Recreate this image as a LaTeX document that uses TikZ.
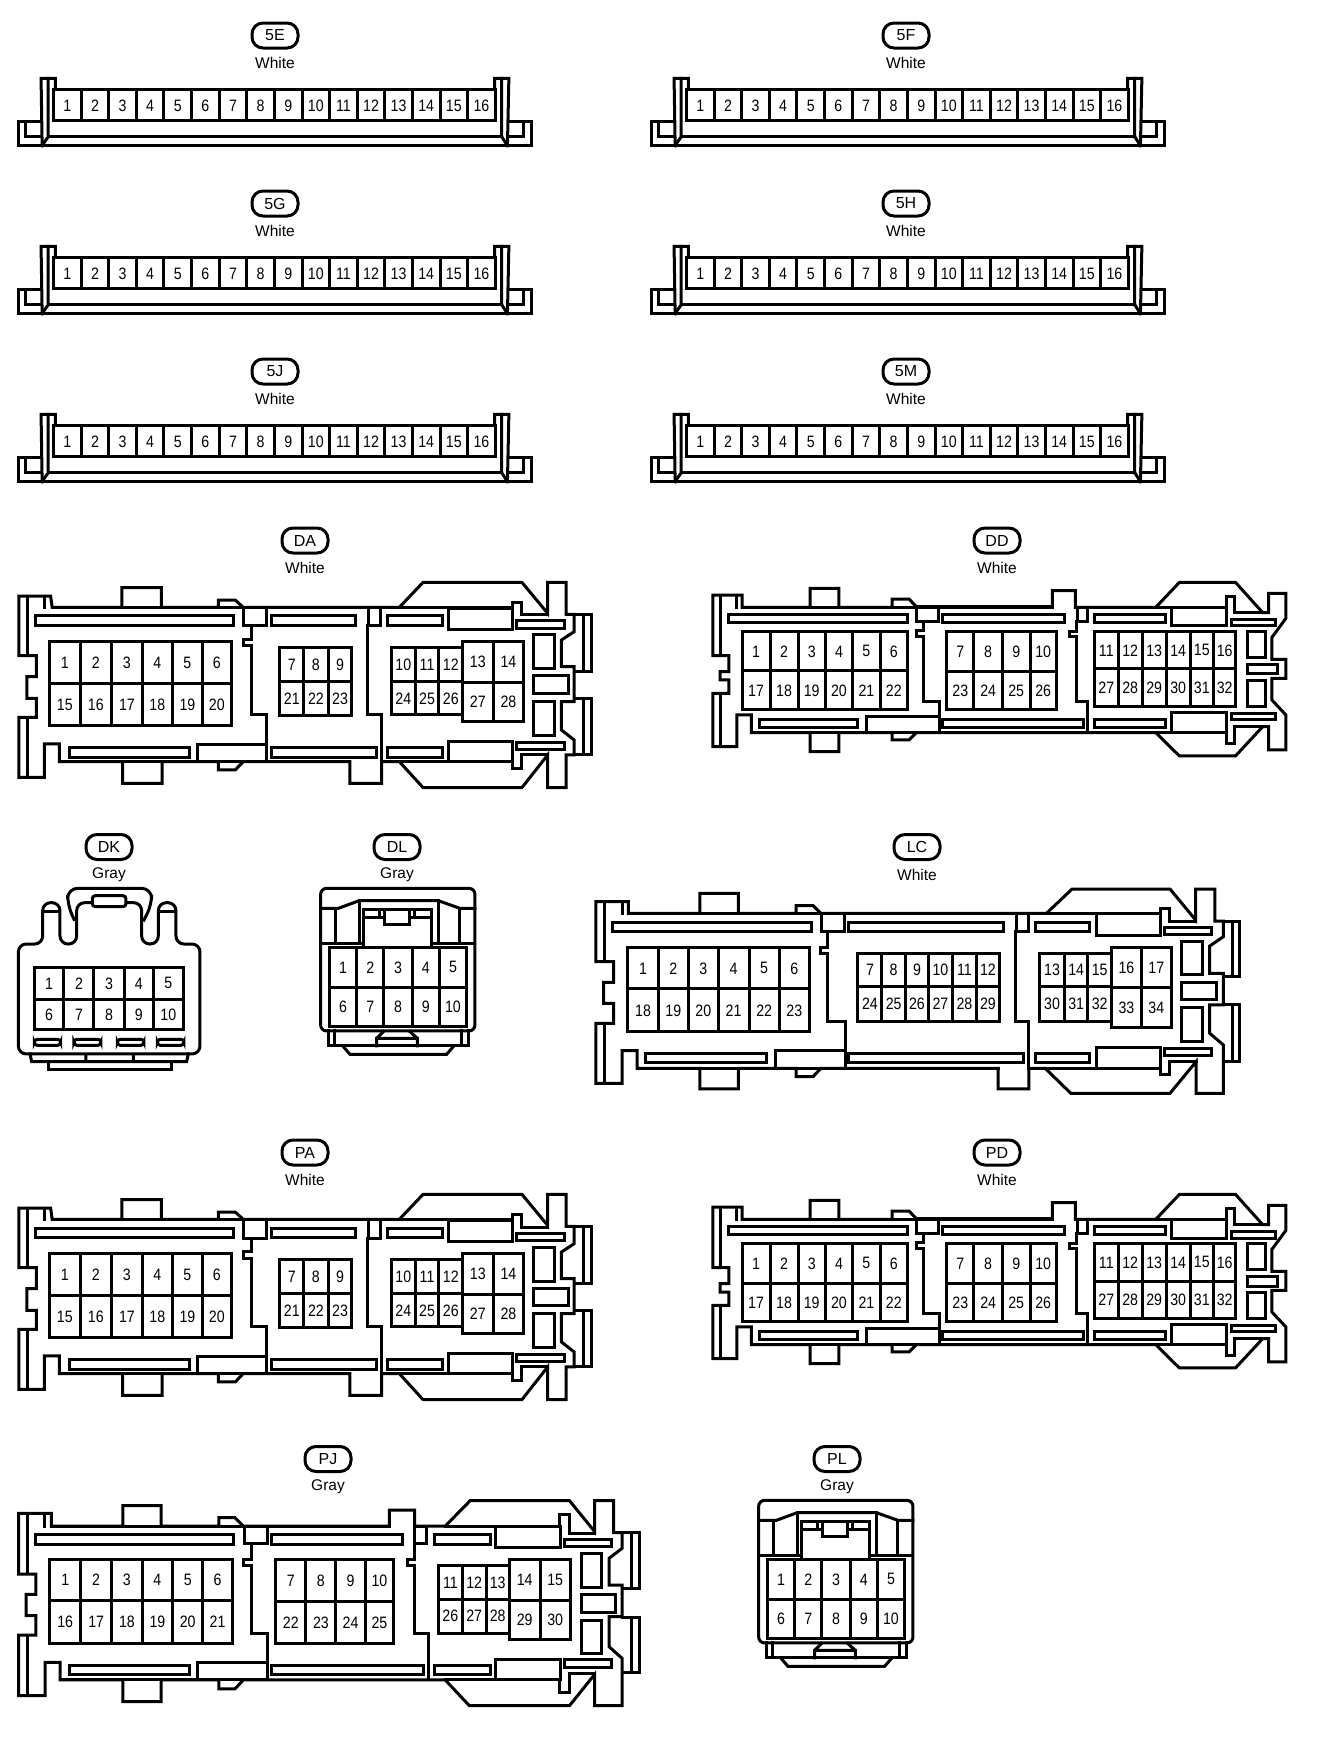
\documentclass[tikz,border=0pt]{standalone}
\usepackage{fontspec}
\setmainfont{Liberation Sans}
\newfontfamily\pinfont[FakeStretch=0.86]{Liberation Sans}
\tikzset{
  partline/.style={line width=3pt,line join=miter,line cap=rect},
  tagbox/.style={draw,line width=3pt,rounded corners=11pt,minimum width=46pt,minimum height=25pt,inner sep=0pt,font=\fontsize{16}{18}\selectfont},
  collabel/.style={inner sep=0pt,font=\fontsize{15.5}{18}\selectfont},
  pinlabel/.style={inner sep=0pt,font=\pinfont\fontsize{16.5}{18}\selectfont}
}
\newcommand{\tagpair}[4]{
  \node[tagbox] (tag#1) at (#2,#3) {#1};
  \node[collabel] (col#1) at (#2,#3+27.5) {#4};
}
\newcommand{\partrects}[1]{
  \foreach \a/\b/\c/\d in {#1}
    \draw[partline] (\a,\b) rectangle (\c,\d);
}
\newcommand{\pinrow}[5]{
  \foreach \x/\n [remember=\x as \px (initially #4)] in {#5}
    \draw[partline] (\px,#2) rectangle node[pinlabel] (#1\n) {\n} (\x,#3);
}
\newcommand{\ribbon}[3]{
  \begin{scope}[shift={(#2,#3)},x=0.3571pt,y=-0.3333pt]
    \draw[partline] (115,364) -- (52,364) -- (52,437) -- (1487,437) -- (1487,364) -- (1425,364);
    \draw[partline] (72,370) -- (72,410) -- (115,410);
    \draw[partline] (1467,370) -- (1467,410) -- (1425,410);
    \draw[partline] (118,437) -- (115,235) -- (155,235) -- (155,268);
    \draw[partline] (1421,437) -- (1425,235) -- (1385,235) -- (1385,268);
    \draw[partline] (118,437) -- (135,410) -- (135,235);
    \draw[partline] (1421,437) -- (1405,410) -- (1405,235);
    \draw[partline] (135,410) -- (1405,410);
    \foreach \n in {1,...,16}
      \draw[partline] ({72.7+77.3*\n},268) rectangle node[pinlabel,yshift=-1pt] (#1p\n) {\n} ({150+77.3*\n},362);
  \end{scope}
}
\newcommand{\connDA}[2]{
  \begin{scope}[shift={(0,#2)},x=0.3954pt,y=-0.3333pt]
    \draw[partline] (48,228) -- (128,228) -- (132,262) -- (308,262) -- (308,203) -- (408,203) -- (408,262)
      -- (552,262) -- (552,240) -- (595,240) -- (615,262) -- (1010,262) -- (1070,187) -- (1320,187) -- (1385,280)
      -- (1385,187) -- (1432,187) -- (1432,283) -- (1452,283) -- (1452,335) -- (1420,360) -- (1420,440) -- (1452,440)
      -- (1452,545) -- (1420,545) -- (1420,630) -- (1452,660) -- (1452,705) -- (1432,705) -- (1432,803) -- (1385,803)
      -- (1385,705) -- (1320,803) -- (1070,803) -- (1010,725) -- (965,725) -- (965,790) -- (885,790) -- (885,725)
      -- (615,725) -- (595,750) -- (552,750) -- (552,725)
      -- (410,725) -- (410,790) -- (310,790) -- (310,725) -- (150,725) -- (150,672) -- (112,672) -- (112,772)
      -- (48,772) -- (48,592) -- (92,592) -- (92,535) -- (68,535) -- (68,470) -- (92,470) -- (92,407) -- (48,407) -- cycle;
    \draw[partline] (132,262) -- (1010,262) (150,725) -- (885,725);
    \draw[partline] (70,228) -- (70,405) (70,592) -- (70,772) (112,228) -- (112,262);
    \draw[partline] (1452,283) -- (1495,283) -- (1495,455) -- (1452,455) (1475,283) -- (1475,455);
    \draw[partline] (1452,537) -- (1495,537) -- (1495,705) -- (1452,705) (1475,537) -- (1475,705);
    \draw[partline] (1010,262) -- (1295,262) -- (1295,248) -- (1320,248) -- (1320,285) -- (1385,285);
    \draw[partline] (1010,725) -- (1295,725) -- (1295,745) -- (1320,745) -- (1320,703) -- (1385,703);
    \partrects{90/288/590/316,686/288/900/316,980/288/1118/316,1135/265/1295/328,1307/303/1427/326,
      175/682/480/712,686/682/952/712,980/682/1118/712,1135/665/1295/725,1307/667/1427/690,500/675/675/725,
      615/262/675/318,932/262/962/318,1350/345/1403/447,1350/468/1437/522,1350/545/1403/647}
    \draw[partline] (635,318) -- (635,358) -- (615,358) -- (615,378) -- (635,378) -- (635,585) -- (675,585) -- (675,725);
    \draw[partline] (930,318) -- (930,585) -- (965,585) -- (965,725);
    \pinrow{#1}{365}{490}{125}{203/1,282/2,360/3,436/4,512/5,585/6}
    \pinrow{#1}{490}{617}{125}{203/15,282/16,360/17,436/18,512/19,585/20}
    \pinrow{#1}{382}{485}{708}{768/7,830/8,890/9}
    \pinrow{#1}{485}{587}{708}{768/21,830/22,890/23}
    \pinrow{#1}{382}{485}{990}{1050/10,1110/11,1170/12}
    \pinrow{#1}{485}{585}{990}{1050/24,1110/25,1170/26}
    \pinrow{#1}{365}{487}{1170}{1247/13,1325/14}
    \pinrow{#1}{487}{605}{1170}{1247/27,1325/28}
  \end{scope}
}
\newcommand{\connDD}[2]{
  \begin{scope}[shift={(700,#2)},x=0.4005pt,y=-0.3333pt]
    \draw[partline] (32,225) -- (105,225) -- (105,262) -- (275,262) -- (275,205) -- (347,205) -- (347,262) -- (480,262)
      -- (480,237) -- (522,237) -- (540,260) -- (880,260) -- (880,212) -- (937,212) -- (937,262) -- (1138,262)
      -- (1197,187) -- (1337,187) -- (1405,278) -- (1420,278) -- (1420,220) -- (1463,220) -- (1463,295) -- (1428,352)
      -- (1428,418) -- (1463,418) -- (1463,475) -- (1428,475) -- (1428,540) -- (1463,585) -- (1463,690) -- (1420,690)
      -- (1420,620) -- (1405,620) -- (1337,708) -- (1197,708) -- (1138,638) -- (540,638) -- (522,660) -- (480,660)
      -- (480,638) -- (347,638) -- (347,695) -- (275,695) -- (275,638) -- (128,638) -- (128,585) -- (92,585) -- (92,680)
      -- (32,680) -- (32,520) -- (72,520) -- (72,480) -- (50,480) -- (50,455) -- (72,455) -- (72,407) -- (32,407) -- cycle;
    \draw[partline] (105,261) -- (880,261) (128,638) -- (540,638);
    \draw[partline] (50,225) -- (50,405) (50,520) -- (50,680) (90,225) -- (90,262);
    \draw[partline] (1138,262) -- (1315,262) -- (1315,228) -- (1335,228) -- (1335,278) -- (1405,278);
    \draw[partline] (1138,638) -- (1315,638) -- (1315,670) -- (1335,670) -- (1335,620) -- (1405,620);
    \partrects{72/284/518/308,605/284/910/308,985/284/1163/308,1178/262/1315/318,1327/298/1437/318,
      148/598/393/622,605/598/958/622,985/598/1163/622,1178/578/1315/638,1327/580/1437/600,415/590/597/638,
      540/262/595/305,942/262/968/305,1368/335/1413/412,1368/433/1443/462,1368/482/1413/560}
    \draw[partline] (557,305) -- (557,332) -- (540,332) -- (540,350) -- (557,350) -- (557,545) -- (597,545) -- (597,638);
    \draw[partline] (940,305) -- (940,335) -- (922,335) -- (922,350) -- (940,350) -- (940,545) -- (968,545) -- (968,638);
    \pinrow{#1}{335}{453}{105}{175/1,245/2,313/3,381/4,450/5,518/6}
    \pinrow{#1}{453}{570}{105}{175/17,245/18,313/19,381/20,450/21,518/22}
    \pinrow{#1}{335}{455}{616}{684/7,755/8,824/9,890/10}
    \pinrow{#1}{455}{570}{616}{684/23,755/24,824/25,890/26}
    \pinrow{#1}{335}{447}{985}{1044/11,1104/12,1164/13,1224/14,1282/15,1338/16}
    \pinrow{#1}{447}{560}{985}{1044/27,1104/28,1164/29,1224/30,1282/31,1338/32}
  \end{scope}
}
\newcommand{\connDL}[3]{
  \begin{scope}[shift={(#2,#3)},x=0.3333pt,y=-0.3333pt]
    \draw[partline,rounded corners=6pt] (962,175) rectangle (1425,603);
    \draw[partline] (962,235) -- (1015,235) -- (1078,212) -- (1315,212) -- (1380,235) -- (1425,235);
    \draw[partline] (1078,212) -- (1078,340) (1315,212) -- (1315,340) (1008,235) -- (1008,340) (1378,235) -- (1378,340);
    \draw[partline] (962,340) -- (1092,340) (1295,340) -- (1425,340);
    \draw[partline] (1092,350) -- (1092,237) -- (1295,237) -- (1295,350) (1092,262) -- (1155,262) (1230,262) -- (1295,262);
    \draw[partline] (1155,237) -- (1155,283) -- (1230,283) -- (1230,237) (1138,237) -- (1138,262) (1245,237) -- (1245,262);
    \pinrow{#1}{352}{472}{988}{1070/1,1152/2,1237/3,1318/4,1400/5}
    \pinrow{#1}{472}{590}{988}{1070/6,1152/7,1237/8,1318/9,1400/10}
    \draw[partline] (985,603) -- (985,648) -- (1405,648) -- (1405,603) (1005,603) -- (1005,648) (1385,603) -- (1385,648);
    \draw[partline] (1130,648) -- (1130,625) -- (1150,605) (1230,605) -- (1252,625) -- (1252,648) (1130,625) -- (1252,625);
    \draw[partline] (1030,650) -- (1050,673) -- (1340,673) -- (1360,650);
  \end{scope}
}
\begin{document}
\begin{tikzpicture}[x=1pt,y=-1pt]
  \useasboundingbox[fill=white] (0,0) rectangle (1328,1738);
  \foreach \tagname/\dx/\dy/\tx/\ty in {5E/0/0/275/35.5,5F/633/0/906/35.5,5G/0/168/275/203.5,5H/633/168/906/203.5,5J/0/336/275/371.5,5M/633/336/906/371.5} {
    \tagpair{\tagname}{\tx}{\ty}{White}
    \ribbon{\tagname}{\dx}{\dy}
  }
  \tagpair{DA}{305}{540.5}{White}
  \connDA{DA}{520}
  \tagpair{DD}{997}{540.5}{White}
  \connDD{DD}{520}
  \tagpair{PA}{305}{1152.5}{White}
  \connDA{PA}{1132}
  \tagpair{PD}{997}{1152.5}{White}
  \connDD{PD}{1132}
  \tagpair{DK}{109}{847}{Gray}
  \begin{scope}[shift={(0,830)},x=0.3333pt,y=-0.3333pt]
    \draw[partline,rounded corners=8pt] (55,500) -- (55,342) -- (128,342) -- (128,218) -- (180,218) -- (180,342) -- (230,342)
      -- (230,218) -- (275,218) (380,218) -- (425,218) -- (425,342) -- (475,342) -- (475,218) -- (528,218) -- (528,342)
      -- (600,342) -- (600,672) -- (55,672) -- (55,500);
    \draw[partline,rounded corners=10pt] (222,268) -- (203,225) -- (203,175) -- (455,175) -- (455,225) -- (432,270);
    \draw[partline,rounded corners=3pt] (277,197) rectangle (378,230);
    \draw[partline] (130,245) -- (178,245) (480,245) -- (528,245);
    \pinrow{DK}{412}{508}{103}{192/1,282/2,373/3,460/4,550/5}
    \pinrow{DK}{508}{600}{103}{192/6,282/7,373/8,460/9,550/10}
    \foreach \a/\c in {103/182,222/303,352/432,472/552}
      \draw[partline,rounded corners=3pt] (\a,628) rectangle (\c,646);
    \draw[partline] (90,672) -- (95,695) -- (560,695) -- (565,672) (258,678) -- (258,695) (400,678) -- (400,695);
    \draw[partline] (145,695) -- (145,720) -- (515,720) -- (515,695);
  \end{scope}
  \tagpair{DL}{397}{847}{Gray}
  \connDL{DL}{0}{830}
  \tagpair{PL}{837}{1459}{Gray}
  \connDL{PL}{438}{1442}
  \tagpair{LC}{917}{847}{White}
  \begin{scope}[shift={(590,840)},x=0.4274pt,y=-0.3333pt]
    \draw[partline] (14,185) -- (90,185) -- (90,220) -- (257,220) -- (257,160) -- (347,160) -- (347,220) -- (482,220)
      -- (482,197) -- (522,197) -- (540,220) -- (1068,220) -- (1128,147) -- (1357,147) -- (1417,240) -- (1417,147)
      -- (1462,147) -- (1462,243) -- (1482,243) -- (1482,290) -- (1450,318) -- (1450,400) -- (1482,400) -- (1482,495)
      -- (1450,495) -- (1450,580) -- (1482,615) -- (1482,665) -- (1482,760) -- (1418,760) -- (1418,665) -- (1357,760)
      -- (1125,760) -- (1065,685) -- (1027,685) -- (1027,747) -- (955,747) -- (955,685) -- (540,685) -- (522,710)
      -- (482,710) -- (482,685) -- (347,685) -- (347,747)
      -- (257,747) -- (257,685) -- (110,685) -- (110,632) -- (75,632) -- (75,730) -- (14,730) -- (14,550) -- (55,550)
      -- (55,490) -- (32,490) -- (32,427) -- (55,427) -- (55,365) -- (14,365) -- cycle;
    \draw[partline] (90,220) -- (1068,220) (110,685) -- (955,685);
    \draw[partline] (35,185) -- (35,365) (35,550) -- (35,730) (75,185) -- (75,220);
    \draw[partline] (1482,243) -- (1520,243) -- (1520,410) -- (1482,410) (1503,243) -- (1503,410);
    \draw[partline] (1482,495) -- (1520,495) -- (1520,665) -- (1482,665) (1503,495) -- (1503,665);
    \draw[partline] (1068,220) -- (1335,220) -- (1335,205) -- (1355,205) -- (1355,243) -- (1417,243);
    \draw[partline] (1065,685) -- (1335,685) -- (1335,703) -- (1355,703) -- (1355,665) -- (1418,665);
    \partrects{52/247/518/275,605/247/968/275,1042/247/1168/275,1185/220/1335/285,1345/262/1455/283,
      130/640/413/667,605/640/1015/667,1042/640/1168/667,1185/622/1335/685,1345/625/1455/647,435/632/597/685,
      542/220/595/275,997/220/1025/275,1385/303/1433/405,1385/427/1465/480,1385/503/1433/605}
    \draw[partline] (555,275) -- (555,322) -- (540,322) -- (540,340) -- (555,340) -- (555,545) -- (597,545) -- (597,685);
    \draw[partline] (995,275) -- (995,545) -- (1027,545) -- (1027,685);
    \pinrow{LC}{323}{447}{88}{160/1,230/2,300/3,372/4,443/5,513/6}
    \pinrow{LC}{447}{575}{88}{160/18,230/19,300/20,372/21,443/22,513/23}
    \pinrow{LC}{340}{440}{627}{683/7,738/8,792/9,848/10,904/11,958/12}
    \pinrow{LC}{440}{545}{627}{683/24,738/25,792/26,848/27,904/28,958/29}
    \pinrow{LC}{340}{440}{1052}{1110/13,1165/14,1220/15}
    \pinrow{LC}{440}{545}{1052}{1110/30,1165/31,1220/32}
    \pinrow{LC}{323}{442}{1220}{1290/16,1360/17}
    \pinrow{LC}{442}{563}{1220}{1290/33,1360/34}
  \end{scope}
  \tagpair{PJ}{328}{1459}{Gray}
  \begin{scope}[shift={(0,1450)},x=0.4209pt,y=-0.3333pt]
    \draw[partline] (44,190) -- (122,190) -- (122,228) -- (292,228) -- (292,167) -- (383,167) -- (383,228) -- (520,228)
      -- (520,203) -- (558,203) -- (578,228) -- (925,228) -- (925,180) -- (985,180) -- (985,228) -- (1058,228)
      -- (1117,152) -- (1353,152) -- (1413,245) -- (1413,152) -- (1458,152) -- (1458,248) -- (1478,248) -- (1478,295)
      -- (1447,325) -- (1447,405) -- (1478,405) -- (1478,500) -- (1447,500) -- (1447,590) -- (1478,625) -- (1478,767)
      -- (1413,767) -- (1413,673) -- (1353,767) -- (1115,767) -- (1058,690) -- (578,690) -- (558,717) -- (520,717)
      -- (520,690) -- (383,690) -- (383,755) -- (292,755) -- (292,690) -- (143,690) -- (143,637) -- (107,637)
      -- (107,737) -- (44,737) -- (44,555) -- (85,555) -- (85,497) -- (62,497) -- (62,433) -- (85,433) -- (85,372)
      -- (44,372) -- cycle;
    \draw[partline] (122,228) -- (925,228) (143,690) -- (578,690);
    \draw[partline] (65,190) -- (65,370) (65,555) -- (65,737) (105,190) -- (105,228);
    \draw[partline] (1478,248) -- (1520,248) -- (1520,415) -- (1478,415) (1500,248) -- (1500,415);
    \draw[partline] (1478,502) -- (1520,502) -- (1520,668) -- (1478,668) (1500,502) -- (1500,668);
    \draw[partline] (1058,228) -- (1330,228) -- (1330,193) -- (1352,193) -- (1352,250) -- (1413,250);
    \draw[partline] (1058,690) -- (1330,690) -- (1330,728) -- (1352,728) -- (1352,670) -- (1413,670);
    \partrects{85/253/555/282,645/253/957/282,1033/253/1165/282,1178/228/1332/293,1340/268/1453/290,
      165/647/450/675,645/647/1007/675,1033/647/1165/675,1178/628/1332/690,1340/630/1453/652,470/637/635/690,
      580/228/635/280,985/228/1013/280,1382/310/1430/412,1382/433/1462/487,1382/510/1430/610}
    \draw[partline] (597,280) -- (597,328) -- (578,328) -- (578,347) -- (597,347) -- (597,550) -- (635,550) -- (635,690);
    \draw[partline] (985,280) -- (985,328) -- (968,328) -- (968,347) -- (985,347) -- (985,550) -- (1017,550) -- (1017,690);
    \pinrow{PJ}{328}{452}{118}{192/1,265/2,338/3,410/4,482/5,552/6}
    \pinrow{PJ}{452}{580}{118}{192/16,265/17,338/18,410/19,482/20,552/21}
    \pinrow{PJ}{328}{455}{655}{727/7,798/8,868/9,935/10}
    \pinrow{PJ}{455}{580}{655}{727/22,798/23,868/24,935/25}
    \pinrow{PJ}{347}{447}{1042}{1098/11,1155/12,1210/13}
    \pinrow{PJ}{447}{550}{1042}{1098/26,1155/27,1210/28}
    \pinrow{PJ}{328}{450}{1210}{1283/14,1355/15}
    \pinrow{PJ}{450}{568}{1210}{1283/29,1355/30}
  \end{scope}
\end{tikzpicture}
\end{document}
